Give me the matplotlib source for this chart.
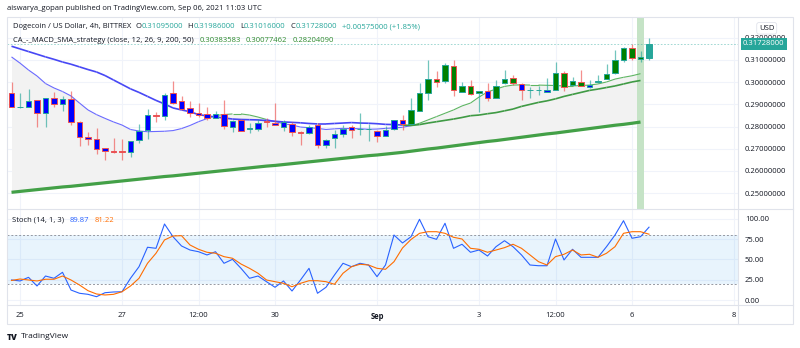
import numpy as np
import matplotlib
matplotlib.use("Agg")
import matplotlib.pyplot as plt
from matplotlib.collections import LineCollection
from matplotlib.lines import Line2D
from matplotlib.patches import Rectangle
from matplotlib.transforms import blended_transform_factory

plt.rcParams['font.family'] = ['Open Sans', 'DejaVu Sans']
FS = 5.5

# 4h candles, Aug 24 20:00 .. Sep 6 08:00
opens = [0.2953, 0.2887, 0.2890, 0.2918, 0.2860, 0.2927, 0.2903, 0.2923, 0.2822, 0.2753,
         0.2745, 0.2702, 0.2690, 0.2688, 0.2686, 0.2740, 0.2785, 0.2852, 0.2849, 0.2950,
         0.2914, 0.2882, 0.2863, 0.2855, 0.2840, 0.2857, 0.2800, 0.2830, 0.2791, 0.2791,
         0.2825, 0.2815, 0.2800, 0.2810, 0.2777, 0.2770, 0.2807, 0.2717, 0.2747, 0.2767,
         0.2797, 0.2788, 0.2788, 0.2782, 0.2759, 0.2788, 0.2830, 0.2812, 0.2872, 0.2950,
         0.3014, 0.3005, 0.3073, 0.2957, 0.2983, 0.2950, 0.2960, 0.2930, 0.2995, 0.3020,
         0.2992, 0.2963, 0.2963, 0.2956, 0.2965, 0.3040, 0.2987, 0.2999, 0.2977, 0.3002,
         0.3016, 0.3040, 0.3100, 0.3153, 0.3106, 0.31095]
highs = [0.3001, 0.2953, 0.2971, 0.2920, 0.2929, 0.2954, 0.2938, 0.2960, 0.2824, 0.2777,
         0.2792, 0.2704, 0.2747, 0.2744, 0.2737, 0.2812, 0.2878, 0.2867, 0.2953, 0.3005,
         0.2938, 0.2915, 0.2905, 0.2887, 0.2870, 0.2920, 0.2830, 0.2833, 0.2815, 0.2833,
         0.2840, 0.2905, 0.2830, 0.2822, 0.2779, 0.2808, 0.2818, 0.2742, 0.2785, 0.2807,
         0.2807, 0.2863, 0.2812, 0.2785, 0.2803, 0.2830, 0.2852, 0.2927, 0.2995, 0.3100,
         0.3050, 0.3085, 0.3100, 0.2999, 0.3010, 0.2962, 0.2995, 0.3010, 0.3055, 0.3032,
         0.2995, 0.2977, 0.2983, 0.3020, 0.3090, 0.3050, 0.3025, 0.3055, 0.3010, 0.3032,
         0.3082, 0.3145, 0.3160, 0.3172, 0.3142, 0.31986]
lows = [0.2888, 0.2886, 0.2889, 0.2800, 0.2800, 0.2890, 0.2870, 0.2807, 0.2713, 0.2717,
        0.2677, 0.2650, 0.2680, 0.2650, 0.2662, 0.2725, 0.2745, 0.2822, 0.2830, 0.2902,
        0.2875, 0.2845, 0.2845, 0.2830, 0.2839, 0.2788, 0.2777, 0.2780, 0.2770, 0.2782,
        0.2800, 0.2806, 0.2782, 0.2758, 0.2717, 0.2767, 0.2702, 0.2702, 0.2702, 0.2755,
        0.2747, 0.2762, 0.2737, 0.2732, 0.2757, 0.2786, 0.2785, 0.2811, 0.2870, 0.2920,
        0.2980, 0.2998, 0.2938, 0.2956, 0.2942, 0.2867, 0.2917, 0.2929, 0.2994, 0.2987,
        0.2920, 0.2930, 0.2942, 0.2955, 0.2964, 0.2962, 0.2986, 0.2983, 0.2974, 0.2995,
        0.3015, 0.3039, 0.3092, 0.3100, 0.3092, 0.31016]
closes = [0.2890, 0.2888, 0.2915, 0.2860, 0.2927, 0.2903, 0.2923, 0.2822, 0.2755, 0.2745,
          0.2700, 0.2691, 0.2687, 0.2686, 0.2735, 0.2782, 0.2852, 0.2849, 0.2942, 0.2908,
          0.2881, 0.2860, 0.2854, 0.2840, 0.2857, 0.2804, 0.2825, 0.2782, 0.2794, 0.2818,
          0.2819, 0.2806, 0.2822, 0.2777, 0.2770, 0.2800, 0.2717, 0.2740, 0.2767, 0.2789,
          0.2785, 0.2790, 0.2790, 0.2758, 0.2785, 0.2830, 0.2812, 0.2875, 0.2950, 0.3013,
          0.2999, 0.3077, 0.2965, 0.2983, 0.2947, 0.2960, 0.2930, 0.2984, 0.3014, 0.2995,
          0.2965, 0.2965, 0.2965, 0.2965, 0.3040, 0.2980, 0.3005, 0.2984, 0.2987, 0.3005,
          0.3036, 0.3100, 0.3153, 0.3107, 0.31153, 0.31728]
# strategy state for body colour (b = bearish, g = bullish), last bar is live
state = list("b" * 47 + "g" * 9 + "b" + "g" * 3 + "b" * 4 + "g" * 4 + "b" + "g" * 6)

fast_ma = [0.3114, 0.3086, 0.3055, 0.3028, 0.2994, 0.2974, 0.2958, 0.2938, 0.2906, 0.2875,
           0.2854, 0.2837, 0.2821, 0.2807, 0.2787, 0.2780, 0.2777, 0.2778, 0.2779, 0.2782,
           0.2791, 0.2805, 0.2822, 0.2836, 0.2850, 0.2854, 0.2857, 0.2857, 0.2852, 0.2843,
           0.2832, 0.2823, 0.2813, 0.2807, 0.2798, 0.2795, 0.2792, 0.2787, 0.2790, 0.2792,
           0.2792, 0.2790, 0.2788, 0.2789, 0.2792, 0.2794, 0.2797, 0.2804, 0.2815, 0.2830,
           0.2845, 0.2860, 0.2875, 0.2893, 0.2906, 0.2933, 0.2956, 0.2969, 0.2981, 0.2987,
           0.2988, 0.2987, 0.2987, 0.2986, 0.2985, 0.2983, 0.2983, 0.2985, 0.2987, 0.2992,
           0.3001, 0.3014, 0.3022, 0.3029, 0.30384]
slow_ma = [0.3162, 0.3150, 0.3138, 0.3126, 0.3114, 0.3103, 0.3091, 0.3081, 0.3069, 0.3057,
           0.3046, 0.3030, 0.3010, 0.2990, 0.2970, 0.2954, 0.2936, 0.2918, 0.2902, 0.2884,
           0.2875, 0.2867, 0.2854, 0.2848, 0.2843, 0.2839, 0.2834, 0.2832, 0.2831, 0.2830,
           0.2827, 0.2824, 0.2821, 0.2819, 0.2817, 0.2814, 0.2812, 0.2812, 0.2814, 0.2816,
           0.2818, 0.2816, 0.2815, 0.2813, 0.2810, 0.2809, 0.2807, 0.2805, 0.2809, 0.2816,
           0.2822, 0.2828, 0.2834, 0.2841, 0.2849, 0.2852, 0.2858, 0.2863, 0.2871, 0.2879,
           0.2891, 0.2900, 0.2909, 0.2916, 0.2925, 0.2936, 0.2945, 0.2954, 0.2963, 0.2969,
           0.2976, 0.2983, 0.2992, 0.3001, 0.30077]
sma200 = [0.2504, 0.2508, 0.2512, 0.2516, 0.2520, 0.2524, 0.2528, 0.2531, 0.2535, 0.2539,
          0.2543, 0.2547, 0.2551, 0.2555, 0.2559, 0.2563, 0.2567, 0.2571, 0.2575, 0.2578,
          0.2582, 0.2586, 0.2590, 0.2594, 0.2598, 0.2602, 0.2606, 0.2610, 0.2614, 0.2618,
          0.2622, 0.2625, 0.2629, 0.2633, 0.2637, 0.2641, 0.2645, 0.2649, 0.2653, 0.2657,
          0.2661, 0.2665, 0.2669, 0.2672, 0.2676, 0.2680, 0.2684, 0.2689, 0.2694, 0.2699,
          0.2703, 0.2708, 0.2713, 0.2718, 0.2723, 0.2728, 0.2733, 0.2737, 0.2742, 0.2747,
          0.2752, 0.2757, 0.2762, 0.2767, 0.2771, 0.2776, 0.2781, 0.2786, 0.2791, 0.2796,
          0.2801, 0.2806, 0.2810, 0.2815, 0.28204]
slow_green_from = 47
signal_bar = 74

stoch_k = [24.7, 23.5, 28.0, 17.3, 29.6, 26.8, 34.2, 12.3, 8.3, 7.0,
           4.1, 9.0, 9.9, 10.2, 26.8, 41.1, 65.1, 63.8, 93.8, 78.1,
           66.7, 61.7, 59.6, 55.6, 59.6, 45.3, 50.2, 39.1, 26.8, 29.6,
           22.6, 15.7, 23.5, 11.1, 24.7, 39.1, 8.3, 15.7, 30.9, 45.3,
           41.1, 45.3, 43.2, 28.8, 43.2, 80.2, 70.4, 78.1, 99.6, 78.1,
           74.9, 94.7, 63.8, 68.8, 58.9, 61.7, 54.3, 65.8, 73.2, 65.8,
           55.6, 43.2, 42.3, 42.3, 75.3, 49.4, 62.6, 52.7, 52.7, 52.7,
           65.8, 80.2, 97.9, 76.2, 78.1, 89.87]
stoch_d = [24.1, 25.9, 24.7, 23.5, 25.6, 25.6, 29.6, 24.7, 18.5, 11.5,
           7.4, 6.2, 7.0, 10.2, 17.3, 26.8, 45.3, 57.7, 74.1, 79.0,
           79.4, 67.9, 62.6, 58.9, 57.7, 53.5, 51.5, 44.4, 39.1, 33.0,
           24.7, 22.6, 20.6, 16.4, 20.6, 23.8, 23.8, 22.6, 19.4, 33.0,
           41.1, 44.1, 43.2, 39.1, 37.9, 47.3, 64.2, 74.7, 82.3, 84.3,
           84.3, 82.3, 77.4, 75.3, 63.8, 62.6, 58.9, 61.7, 64.6, 68.8,
           63.8, 55.6, 47.3, 43.2, 53.5, 56.4, 61.7, 55.6, 56.4, 52.7,
           57.7, 65.8, 82.3, 84.3, 84.3, 81.22]

tick_pos = [1, 13, 22, 31, 43, 55, 64, 73, 85]
tick_lab = ['25', '27', '12:00', '30', 'Sep', '3', '12:00', '6', '8']
price_ticks = [0.25, 0.26, 0.27, 0.28, 0.29, 0.30, 0.31, 0.32]
stoch_ticks = [0, 25, 50, 75, 100]
last_price = 0.31728

BLUE = '#0000ff'
GREEN = '#008000'
UP = '#26a69a'
DOWN = '#ef5350'
GRID = '#f0f3fa'
FRAME = '#e0e3eb'
TXT = '#131722'

W, H = 800, 348
fig = plt.figure(figsize=(W / 100, H / 100), dpi=100)
fig.patch.set_facecolor('white')

def fx(px):
    return px / W

def fy(py):
    return 1 - py / H

ax = fig.add_axes([fx(7), fy(208.5), fx(731), 191.5 / H])
ax2 = fig.add_axes([fx(7), fy(305), fx(731), 95.5 / H])

n = len(closes)
idx = np.arange(n)
ma_idx = np.arange(len(fast_ma))

for a in (ax, ax2):
    a.set_xlim(-0.53, 85.47)
    a.set_xticks(tick_pos)
    a.grid(True, color=GRID, lw=0.8)
    a.set_axisbelow(True)
    for s in a.spines.values():
        s.set_visible(False)
    a.yaxis.tick_right()
    a.tick_params(length=0, labelsize=FS, colors=TXT, pad=5)

# main panel
ax.set_ylim(0.2431, 0.32937)
ax.set_yticks(price_ticks)
ax.set_yticklabels(['%.8f' % v for v in price_ticks])
ax.set_xticklabels([])

ax.fill_between(ma_idx, fast_ma, sma200, color='#f2f2f2', lw=0, zorder=1)
ax.axvspan(signal_bar - 0.45, signal_bar + 0.45, color='#c5e3c6', lw=0, zorder=1.5)

fast = np.array(fast_ma)
slow = np.array(slow_ma)
seg_f = [[(i, fast[i]), (i + 1, fast[i + 1])] for i in range(len(fast) - 1)]
col_f = ['#5fb563' if fast[i + 1] > slow[i + 1] else '#6a6aff' for i in range(len(fast) - 1)]
ax.add_collection(LineCollection(seg_f, colors=col_f, lw=0.8, zorder=2))
seg_s = [[(i, slow[i]), (i + 1, slow[i + 1])] for i in range(len(slow) - 1)]
col_s = ['#3f9a44' if i + 1 >= slow_green_from else '#4747f5' for i in range(len(slow) - 1)]
ax.add_collection(LineCollection(seg_s, colors=col_s, lw=1.2, zorder=2))
ax.plot(ma_idx, sma200, color='#43a047', lw=2.3, zorder=2, solid_capstyle='butt')

ax.axhline(last_price, color=UP, lw=0.6, ls=(0, (2, 2)), alpha=0.5, zorder=2)

for i in idx:
    o, h, l, c = opens[i], highs[i], lows[i], closes[i]
    up = c >= o
    edge = UP if up else DOWN
    if i == n - 1:
        body = UP
    else:
        body = BLUE if state[i] == 'b' else GREEN
    ax.vlines(i, l, h, color=edge, lw=0.9, alpha=0.65, zorder=3)
    hgt = max(abs(c - o), 0.00012)
    ax.bar(i, hgt, bottom=min(o, c), width=0.66, color=body, edgecolor=edge,
           lw=0.7, zorder=4)

tr = blended_transform_factory(ax.transAxes, ax.transData)
ax.text(1.007, last_price, '%.8f' % last_price, transform=tr, fontsize=FS,
        color='white', va='center', ha='left', zorder=10,
        bbox=dict(boxstyle='square,pad=0.3', fc=UP, ec='none'), clip_on=False)
fig.text(fx(766.7), fy(28.3), 'USD', fontsize=FS, color=TXT, ha='center', va='center',
         bbox=dict(boxstyle='round,pad=0.3,rounding_size=0.3', fc='white', ec=FRAME, lw=0.6))

# stochastic panel
ax2.set_ylim(-6.17, 111.7)
ax2.set_yticks(stoch_ticks)
ax2.set_yticklabels(['%.2f' % v for v in stoch_ticks])
ax2.set_xticklabels(tick_lab)
for lab in ax2.get_xticklabels():
    if lab.get_text() == 'Sep':
        lab.set_fontweight('bold')
ax2.tick_params(axis='x', pad=5)
ax2.axhspan(20, 80, color='#2196f3', alpha=0.1, lw=0, zorder=1)
for lvl in (20, 80):
    ax2.axhline(lvl, color='#9598a1', lw=0.7, ls=(0, (2, 2)), zorder=1.5)
ax2.plot(idx, stoch_k, color='#2962ff', lw=0.8, zorder=3)
ax2.plot(idx, stoch_d, color='#ff6d00', lw=0.8, zorder=3)

# frame lines
fig.add_artist(Rectangle((fx(7), fy(324)), fx(786), 307 / H, fill=False, ec=FRAME, lw=0.8,
                         transform=fig.transFigure))
for py in (209, 305):
    fig.add_artist(Line2D([fx(7), fx(793)], [fy(py), fy(py)], color=FRAME, lw=0.8))
fig.add_artist(Line2D([fx(738), fx(738)], [fy(17), fy(324)], color=FRAME, lw=0.8))

# legends
def chain(axis, x, y, parts):
    t = axis.text(x, y, parts[0][0], color=parts[0][1], fontsize=FS, transform=axis.transAxes,
                  va='bottom', ha='left', zorder=12)
    for s, col, gap in parts[1:]:
        t = axis.annotate(s, xy=(1, 0), xycoords=t, xytext=(gap, 0), textcoords='offset pixels',
                          color=col, fontsize=FS, va='bottom', ha='left', zorder=12,
                          annotation_clip=False)
    return t

ax_h = 191.5
chain(ax, 6 / 731, 1 - 13.5 / ax_h, [
    ('Dogecoin / US Dollar, 4h, BITTREX', TXT),
    ('O', TXT, 4), ('0.31095000', UP, 0),
    ('H', TXT, 5), ('0.31986000', UP, 0),
    ('L', TXT, 5), ('0.31016000', UP, 0),
    ('C', TXT, 5), ('0.31728000', UP, 0),
    ('+0.00575000 (+1.85%)', UP, 5)])
chain(ax, 6 / 731, 1 - 27.5 / ax_h, [
    ('CA_-_MACD_SMA_strategy (close, 12, 26, 9, 200, 50)', TXT),
    ('0.30383583', '#2e8b2e', 6), ('0.30077462', '#2e8b2e', 5),
    ('0.28204090', '#2e8b2e', 5)])
chain(ax2, 5 / 731, 1 - 14 / 95.5, [
    ('Stoch (14, 1, 3)', TXT),
    ('89.87', '#2962ff', 5), ('81.22', '#ff6d00', 6)])

fig.text(fx(7), fy(9), 'aiswarya_gopan published on TradingView.com, Sep 06, 2021 11:03 UTC',
         fontsize=FS, color=TXT, va='center', ha='left')
fig.text(fx(7), fy(337), 'TV', fontsize=6, fontweight='heavy', color=TXT, va='center', ha='left')
fig.text(fx(21), fy(337), 'TradingView', fontsize=6, color=TXT, va='center', ha='left')

fig.savefig('out.png', dpi=100, facecolor='white')
